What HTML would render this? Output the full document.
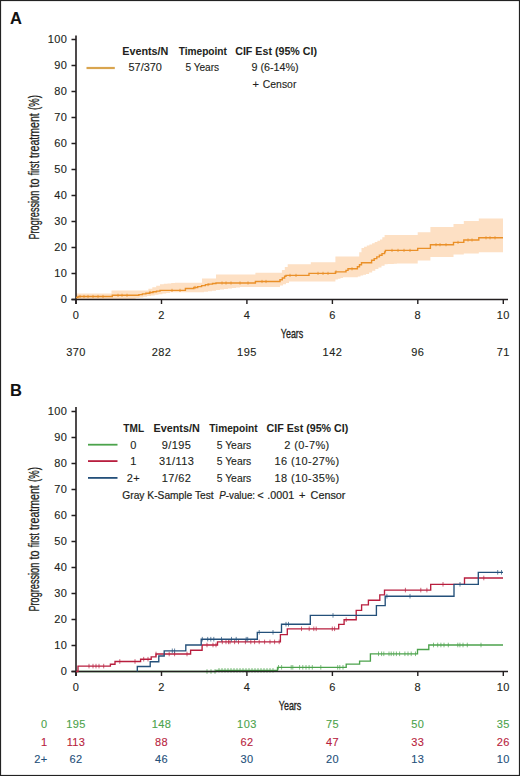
<!DOCTYPE html><html><head><meta charset="utf-8"><style>
html,body{margin:0;padding:0;background:#fff;}
body{width:520px;height:776px;overflow:hidden;position:relative;}
svg{position:absolute;left:0;top:0;}
text{font-family:"Liberation Sans",sans-serif;}
</style></head><body>
<svg width="520" height="776" viewBox="0 0 520 776">
<rect x="0.5" y="0.5" width="519" height="775" fill="#fff" stroke="#222" stroke-width="1.2"/>
<text x="10" y="23.7" font-size="16.5" text-anchor="start" font-weight="bold" fill="#111" stroke="#111" stroke-width="0.05" >A</text>
<path d="M76.0,293.5H111.5V290.4H148.4V288.8H152.3V287.3H156.2V285.8H160.0V284.2H163.8V283.8H167.5V283.4H171.2V283.1H175.0V282.7H202.0V278.5H216.0V274.6H255.4V272.8H281.9V269.9H284.8V267.1H287.7V264.2H310.8V262.3H335.4V256.5H359.2V252.2H361.5V248.0H364.1V246.8H366.8V245.6H369.4V244.4H372.1V243.2H374.7V242.0H377.4V240.8H380.0V239.6H382.3V237.3H384.6V235.0H417.7V232.2H430.4V227.0H453.5V224.0H463.8V221.0H478.8V218.4H503.0V252.3H478.8V253.5H463.8V254.6H453.5V257.0H430.4V260.4H417.7V263.5H400.0V263.6H396.9V263.8H393.8V263.9H390.8V264.1H387.7V264.2H384.6V265.8H381.5V267.5H378.4V269.1H375.3V270.7H372.2V272.4H369.1V274.0H366.0V274.8H363.2V275.6H360.5V276.5H357.8V277.3H343.0V278.1H340.5V278.8H337.9V279.6H335.4V281.5H289.0V282.9H286.0V284.2H283.0V285.5H280.0V286.9H240.0V287.4H236.0V288.0H232.0V288.5H228.0V289.1H224.0V289.6H220.0V290.1H216.0V290.7H212.0V291.2H208.0V291.8H204.0V292.3H170.0V292.9H166.2V293.6H162.4V294.2H158.5V294.8H154.7V295.5H150.9V296.1H147.1V296.7H143.2V297.4H139.4V298.0H135.6V299.0H111.6V299.5H76.0Z" fill="#fde0c4"/>
<path d="M76,35.5V304.0M71.5,299.5H508" stroke="#231f20" stroke-width="1.6" fill="none"/>
<text x="67.2" y="303.4" font-size="11" text-anchor="end" font-weight="normal" fill="#231f20" stroke="#231f20" stroke-width="0.12" letter-spacing="0.4">0</text>
<text x="67.2" y="277.4" font-size="11" text-anchor="end" font-weight="normal" fill="#231f20" stroke="#231f20" stroke-width="0.12" letter-spacing="0.4">10</text>
<text x="67.2" y="251.4" font-size="11" text-anchor="end" font-weight="normal" fill="#231f20" stroke="#231f20" stroke-width="0.12" letter-spacing="0.4">20</text>
<text x="67.2" y="225.4" font-size="11" text-anchor="end" font-weight="normal" fill="#231f20" stroke="#231f20" stroke-width="0.12" letter-spacing="0.4">30</text>
<text x="67.2" y="199.4" font-size="11" text-anchor="end" font-weight="normal" fill="#231f20" stroke="#231f20" stroke-width="0.12" letter-spacing="0.4">40</text>
<text x="67.2" y="173.4" font-size="11" text-anchor="end" font-weight="normal" fill="#231f20" stroke="#231f20" stroke-width="0.12" letter-spacing="0.4">50</text>
<text x="67.2" y="147.4" font-size="11" text-anchor="end" font-weight="normal" fill="#231f20" stroke="#231f20" stroke-width="0.12" letter-spacing="0.4">60</text>
<text x="67.2" y="121.4" font-size="11" text-anchor="end" font-weight="normal" fill="#231f20" stroke="#231f20" stroke-width="0.12" letter-spacing="0.4">70</text>
<text x="67.2" y="95.4" font-size="11" text-anchor="end" font-weight="normal" fill="#231f20" stroke="#231f20" stroke-width="0.12" letter-spacing="0.4">80</text>
<text x="67.2" y="69.4" font-size="11" text-anchor="end" font-weight="normal" fill="#231f20" stroke="#231f20" stroke-width="0.12" letter-spacing="0.4">90</text>
<text x="67.2" y="43.4" font-size="11" text-anchor="end" font-weight="normal" fill="#231f20" stroke="#231f20" stroke-width="0.12" letter-spacing="0.4">100</text>
<text x="76.0" y="318.8" font-size="11" text-anchor="middle" font-weight="normal" fill="#231f20" stroke="#231f20" stroke-width="0.12" letter-spacing="0.4">0</text>
<text x="161.5" y="318.8" font-size="11" text-anchor="middle" font-weight="normal" fill="#231f20" stroke="#231f20" stroke-width="0.12" letter-spacing="0.4">2</text>
<text x="246.9" y="318.8" font-size="11" text-anchor="middle" font-weight="normal" fill="#231f20" stroke="#231f20" stroke-width="0.12" letter-spacing="0.4">4</text>
<text x="332.4" y="318.8" font-size="11" text-anchor="middle" font-weight="normal" fill="#231f20" stroke="#231f20" stroke-width="0.12" letter-spacing="0.4">6</text>
<text x="417.8" y="318.8" font-size="11" text-anchor="middle" font-weight="normal" fill="#231f20" stroke="#231f20" stroke-width="0.12" letter-spacing="0.4">8</text>
<text x="503.3" y="318.8" font-size="11" text-anchor="middle" font-weight="normal" fill="#231f20" stroke="#231f20" stroke-width="0.12" letter-spacing="0.4">10</text>
<path d="M71.5,299.5H76M71.5,273.5H76M71.5,247.5H76M71.5,221.5H76M71.5,195.5H76M71.5,169.5H76M71.5,143.5H76M71.5,117.5H76M71.5,91.5H76M71.5,65.5H76M71.5,39.5H76M76.0,299.5V304.0M161.5,299.5V304.0M246.9,299.5V304.0M332.4,299.5V304.0M417.8,299.5V304.0M503.3,299.5V304.0" stroke="#231f20" stroke-width="1.4" fill="none"/>
<path d="M76.0,297.5H78.0V296.5H112.3V295.3H138.9V294.6H142.4V293.9H145.9V293.2H149.5V292.5H153.0V291.8H156.5V291.1H160.0V290.4H185.4V288.5H193.8V287.5H197.7V286.6H201.6V285.6H205.4V284.6H208.9V284.1H212.5V283.5H216.0V283.0H255.4V281.5H280.0V279.7H282.3V278.0H284.6V276.2H286.0V275.4H309.0V273.4H335.4V271.9H346.0V270.4H348.0V268.8H357.4V266.8H359.5V264.7H361.5V262.7H371.6V260.3H374.2V258.6H376.8V256.9H379.4V255.3H382.0V253.6H384.6V251.9H385.4V250.4H417.7V248.4H430.4V244.7H453.5V242.4H463.8V240.0H478.8V237.8H503.0" stroke="#ea9028" stroke-width="1.4" fill="none"/>
<path d="M80.0,294.9V298.1M84.0,294.9V298.1M88.0,294.9V298.1M93.0,294.9V298.1M98.0,294.9V298.1M103.0,294.9V298.1M118.0,293.7V296.9M122.0,293.7V296.9M127.0,293.7V296.9M150.0,290.9V294.1M172.0,288.8V292.0M180.0,288.8V292.0M195.0,285.9V289.1M208.0,283.0V286.2M222.0,281.4V284.6M226.0,281.4V284.6M231.0,281.4V284.6M240.0,281.4V284.6M248.0,281.4V284.6M262.0,279.9V283.1M266.0,279.9V283.1M290.0,273.8V277.0M296.0,273.8V277.0M318.0,271.8V275.0M323.0,271.8V275.0M328.0,271.8V275.0M336.0,270.3V273.5M352.0,267.2V270.4M392.0,248.8V252.0M398.0,248.8V252.0M404.0,248.8V252.0M410.0,248.8V252.0M436.0,243.1V246.3M440.0,243.1V246.3M446.0,243.1V246.3M458.0,240.8V244.0M468.0,238.4V241.6M472.0,238.4V241.6M486.0,236.2V239.4M490.0,236.2V239.4M495.0,236.2V239.4" stroke="#ea9028" stroke-width="0.8" fill="none"/>
<text transform="translate(38.9,239.6) rotate(-90)" font-size="14" fill="#231f20" stroke="#231f20" stroke-width="0.3" textLength="48.9" lengthAdjust="spacingAndGlyphs">Progression</text>
<text transform="translate(38.9,187.6) rotate(-90)" font-size="14" fill="#231f20" stroke="#231f20" stroke-width="0.3" textLength="9.0" lengthAdjust="spacingAndGlyphs">to</text>
<text transform="translate(38.9,175.2) rotate(-90)" font-size="14" fill="#231f20" stroke="#231f20" stroke-width="0.3" textLength="14.0" lengthAdjust="spacingAndGlyphs">first</text>
<text transform="translate(38.9,157.9) rotate(-90)" font-size="14" fill="#231f20" stroke="#231f20" stroke-width="0.3" textLength="44.6" lengthAdjust="spacingAndGlyphs">treatment</text>
<text transform="translate(38.9,110.0) rotate(-90)" font-size="14" fill="#231f20" stroke="#231f20" stroke-width="0.3" textLength="14.8" lengthAdjust="spacingAndGlyphs">(%)</text>
<text x="280.8" y="337.5" font-size="13.5" fill="#231f20" stroke="#231f20" stroke-width="0.35" textLength="22.5" lengthAdjust="spacingAndGlyphs">Years</text>
<text x="76.0" y="355.8" font-size="11" text-anchor="middle" font-weight="normal" fill="#231f20" stroke="#231f20" stroke-width="0.12" letter-spacing="0.4">370</text>
<text x="161.5" y="355.8" font-size="11" text-anchor="middle" font-weight="normal" fill="#231f20" stroke="#231f20" stroke-width="0.12" letter-spacing="0.4">282</text>
<text x="246.9" y="355.8" font-size="11" text-anchor="middle" font-weight="normal" fill="#231f20" stroke="#231f20" stroke-width="0.12" letter-spacing="0.4">195</text>
<text x="332.4" y="355.8" font-size="11" text-anchor="middle" font-weight="normal" fill="#231f20" stroke="#231f20" stroke-width="0.12" letter-spacing="0.4">142</text>
<text x="417.8" y="355.8" font-size="11" text-anchor="middle" font-weight="normal" fill="#231f20" stroke="#231f20" stroke-width="0.12" letter-spacing="0.4">96</text>
<text x="503.3" y="355.8" font-size="11" text-anchor="middle" font-weight="normal" fill="#231f20" stroke="#231f20" stroke-width="0.12" letter-spacing="0.4">71</text>
<path d="M86.5,68H114.8" stroke="#d9a54f" stroke-width="2.2"/>
<text x="145.3" y="54.9" font-size="11" text-anchor="middle" font-weight="bold" fill="#231f20" stroke="#231f20" stroke-width="0.05" textLength="46.2" lengthAdjust="spacingAndGlyphs">Events/N</text>
<text x="202.8" y="54.9" font-size="11" text-anchor="middle" font-weight="bold" fill="#231f20" stroke="#231f20" stroke-width="0.05" textLength="48.3" lengthAdjust="spacingAndGlyphs">Timepoint</text>
<text x="276.1" y="54.9" font-size="11" text-anchor="middle" font-weight="bold" fill="#231f20" stroke="#231f20" stroke-width="0.05" textLength="81.8" lengthAdjust="spacingAndGlyphs">CIF Est (95% CI)</text>
<text x="145.2" y="70.9" font-size="11" text-anchor="middle" font-weight="normal" fill="#231f20" stroke="#231f20" stroke-width="0.12" textLength="33.4" lengthAdjust="spacingAndGlyphs">57/370</text>
<text x="202.3" y="70.9" font-size="11" text-anchor="middle" font-weight="normal" fill="#231f20" stroke="#231f20" stroke-width="0.12" textLength="33.8" lengthAdjust="spacingAndGlyphs">5 Years</text>
<text x="275.1" y="70.9" font-size="11" text-anchor="middle" font-weight="normal" fill="#231f20" stroke="#231f20" stroke-width="0.12" textLength="47.2" lengthAdjust="spacingAndGlyphs">9 (6-14%)</text>
<text x="252.6" y="87.6" font-size="11" text-anchor="start" font-weight="normal" fill="#231f20" stroke="#231f20" stroke-width="0.12" letter-spacing="0.4">+</text>
<text x="262.8" y="87.6" font-size="11" text-anchor="start" font-weight="normal" fill="#231f20" stroke="#231f20" stroke-width="0.12" textLength="33.6" lengthAdjust="spacingAndGlyphs">Censor</text>
<text x="10" y="396" font-size="16.5" text-anchor="start" font-weight="bold" fill="#111" stroke="#111" stroke-width="0.05" >B</text>
<path d="M76.0,671.5H216.0V670.3H277.5V667.3H346.2V664.1H359.6V661.1H370.4V653.8H417.5V649.5H428.8V645.0H503.0" stroke="#4ca34c" stroke-width="1.35" fill="none"/>
<path d="M207.0,669.2V673.8M211.0,669.2V673.8M215.0,669.2V673.8M219.0,668.0V672.6M222.0,668.0V672.6M225.0,668.0V672.6M228.0,668.0V672.6M231.0,668.0V672.6M234.0,668.0V672.6M237.0,668.0V672.6M240.0,668.0V672.6M243.0,668.0V672.6M246.0,668.0V672.6M249.0,668.0V672.6M252.0,668.0V672.6M255.0,668.0V672.6M258.0,668.0V672.6M261.0,668.0V672.6M264.0,668.0V672.6M267.0,668.0V672.6M270.0,668.0V672.6M273.0,668.0V672.6M278.5,665.0V669.6M281.6,665.0V669.6M291.2,665.0V669.6M292.8,665.0V669.6M299.6,665.0V669.6M302.8,665.0V669.6M306.0,665.0V669.6M309.1,665.0V669.6M312.3,665.0V669.6M320.8,665.0V669.6M337.7,665.0V669.6M339.8,665.0V669.6M343.0,665.0V669.6M378.5,651.5V656.1M381.6,651.5V656.1M383.8,651.5V656.1M389.0,651.5V656.1M391.2,651.5V656.1M393.7,651.5V656.1M396.4,651.5V656.1M399.6,651.5V656.1M404.9,651.5V656.1M408.0,651.5V656.1M411.2,651.5V656.1M415.5,651.5V656.1M433.5,642.7V647.3M437.7,642.7V647.3M440.9,642.7V647.3M444.0,642.7V647.3M448.3,642.7V647.3M457.8,642.7V647.3M459.9,642.7V647.3M463.0,642.7V647.3M467.3,642.7V647.3M481.0,642.7V647.3" stroke="#4ca34c" stroke-width="0.7" fill="none"/>
<path d="M76,407V676.0M71.5,671.5H508" stroke="#231f20" stroke-width="1.6" fill="none"/>
<text x="67.2" y="675.4" font-size="11" text-anchor="end" font-weight="normal" fill="#231f20" stroke="#231f20" stroke-width="0.12" letter-spacing="0.4">0</text>
<text x="67.2" y="649.4" font-size="11" text-anchor="end" font-weight="normal" fill="#231f20" stroke="#231f20" stroke-width="0.12" letter-spacing="0.4">10</text>
<text x="67.2" y="623.4" font-size="11" text-anchor="end" font-weight="normal" fill="#231f20" stroke="#231f20" stroke-width="0.12" letter-spacing="0.4">20</text>
<text x="67.2" y="597.4" font-size="11" text-anchor="end" font-weight="normal" fill="#231f20" stroke="#231f20" stroke-width="0.12" letter-spacing="0.4">30</text>
<text x="67.2" y="571.4" font-size="11" text-anchor="end" font-weight="normal" fill="#231f20" stroke="#231f20" stroke-width="0.12" letter-spacing="0.4">40</text>
<text x="67.2" y="545.4" font-size="11" text-anchor="end" font-weight="normal" fill="#231f20" stroke="#231f20" stroke-width="0.12" letter-spacing="0.4">50</text>
<text x="67.2" y="519.4" font-size="11" text-anchor="end" font-weight="normal" fill="#231f20" stroke="#231f20" stroke-width="0.12" letter-spacing="0.4">60</text>
<text x="67.2" y="493.4" font-size="11" text-anchor="end" font-weight="normal" fill="#231f20" stroke="#231f20" stroke-width="0.12" letter-spacing="0.4">70</text>
<text x="67.2" y="467.4" font-size="11" text-anchor="end" font-weight="normal" fill="#231f20" stroke="#231f20" stroke-width="0.12" letter-spacing="0.4">80</text>
<text x="67.2" y="441.4" font-size="11" text-anchor="end" font-weight="normal" fill="#231f20" stroke="#231f20" stroke-width="0.12" letter-spacing="0.4">90</text>
<text x="67.2" y="415.4" font-size="11" text-anchor="end" font-weight="normal" fill="#231f20" stroke="#231f20" stroke-width="0.12" letter-spacing="0.4">100</text>
<text x="76.0" y="690.8" font-size="11" text-anchor="middle" font-weight="normal" fill="#231f20" stroke="#231f20" stroke-width="0.12" letter-spacing="0.4">0</text>
<text x="161.5" y="690.8" font-size="11" text-anchor="middle" font-weight="normal" fill="#231f20" stroke="#231f20" stroke-width="0.12" letter-spacing="0.4">2</text>
<text x="246.9" y="690.8" font-size="11" text-anchor="middle" font-weight="normal" fill="#231f20" stroke="#231f20" stroke-width="0.12" letter-spacing="0.4">4</text>
<text x="332.4" y="690.8" font-size="11" text-anchor="middle" font-weight="normal" fill="#231f20" stroke="#231f20" stroke-width="0.12" letter-spacing="0.4">6</text>
<text x="417.8" y="690.8" font-size="11" text-anchor="middle" font-weight="normal" fill="#231f20" stroke="#231f20" stroke-width="0.12" letter-spacing="0.4">8</text>
<text x="503.3" y="690.8" font-size="11" text-anchor="middle" font-weight="normal" fill="#231f20" stroke="#231f20" stroke-width="0.12" letter-spacing="0.4">10</text>
<path d="M71.5,671.5H76M71.5,645.5H76M71.5,619.5H76M71.5,593.5H76M71.5,567.5H76M71.5,541.5H76M71.5,515.5H76M71.5,489.5H76M71.5,463.5H76M71.5,437.5H76M71.5,411.5H76M76.0,671.5V676.0M161.5,671.5V676.0M246.9,671.5V676.0M332.4,671.5V676.0M417.8,671.5V676.0M503.3,671.5V676.0" stroke="#231f20" stroke-width="1.4" fill="none"/>
<path d="M76.0,671.5H78.0V666.1H110.4V664.2H115.0V661.5H140.6V659.2H151.2V656.9H156.0V654.0H190.6V650.2H202.1V645.0H217.5V641.9H280.4V634.6H287.3V628.8H338.7V624.4H344.1V619.7H356.2V610.3H361.6V604.9H368.4V600.2H379.8V594.8H384.5V590.1H430.7V584.3H464.5V578.0H503.0" stroke="#b81e3e" stroke-width="1.35" fill="none"/>
<path d="M89.0,663.8V668.4M93.0,663.8V668.4M96.0,663.8V668.4M99.0,663.8V668.4M103.7,663.8V668.4M119.8,659.2V663.8M135.0,659.2V663.8M143.7,656.9V661.5M148.0,656.9V661.5M156.0,651.7V656.3M169.2,651.7V656.3M174.6,651.7V656.3M187.0,651.7V656.3M207.0,642.7V647.3M213.0,642.7V647.3M216.0,642.7V647.3M222.3,639.6V644.2M226.0,639.6V644.2M228.5,639.6V644.2M230.0,639.6V644.2M234.6,639.6V644.2M238.5,639.6V644.2M245.4,639.6V644.2M250.8,639.6V644.2M254.6,639.6V644.2M259.2,639.6V644.2M264.6,639.6V644.2M270.0,639.6V644.2M274.6,639.6V644.2M279.2,639.6V644.2M301.5,626.5V631.1M309.2,626.5V631.1M313.8,626.5V631.1M316.2,626.5V631.1M332.3,626.5V631.1M334.6,626.5V631.1M346.2,617.4V622.0M405.4,587.8V592.4M420.8,587.8V592.4M426.9,587.8V592.4M443.0,582.0V586.6M483.8,575.7V580.3" stroke="#b81e3e" stroke-width="0.7" fill="none"/>
<path d="M137.3,671.5H137.3V666.5H150.2V661.7H158.8V656.0H164.2V650.8H185.8V645.0H201.2V639.2H257.3V632.3H281.5V624.2H310.3V615.4H376.4V605.6H385.2V596.2H454.0V584.3H478.3V572.3H503.0" stroke="#24507a" stroke-width="1.35" fill="none"/>
<path d="M172.3,648.5V653.1M174.6,648.5V653.1M202.3,636.9V641.5M207.7,636.9V641.5M210.8,636.9V641.5M213.8,636.9V641.5M221.5,636.9V641.5M231.5,636.9V641.5M236.2,636.9V641.5M246.2,636.9V641.5M247.7,636.9V641.5M259.2,630.0V634.6M273.0,630.0V634.6M286.0,621.9V626.5M288.5,621.9V626.5M333.0,613.1V617.7M386.9,593.9V598.5M410.0,593.9V598.5M460.0,582.0V586.6M497.7,570.0V574.6M501.5,570.0V574.6" stroke="#24507a" stroke-width="0.7" fill="none"/>
<text transform="translate(38.9,611.6) rotate(-90)" font-size="14" fill="#231f20" stroke="#231f20" stroke-width="0.3" textLength="48.9" lengthAdjust="spacingAndGlyphs">Progression</text>
<text transform="translate(38.9,559.6) rotate(-90)" font-size="14" fill="#231f20" stroke="#231f20" stroke-width="0.3" textLength="9.0" lengthAdjust="spacingAndGlyphs">to</text>
<text transform="translate(38.9,547.2) rotate(-90)" font-size="14" fill="#231f20" stroke="#231f20" stroke-width="0.3" textLength="14.0" lengthAdjust="spacingAndGlyphs">first</text>
<text transform="translate(38.9,529.9) rotate(-90)" font-size="14" fill="#231f20" stroke="#231f20" stroke-width="0.3" textLength="44.6" lengthAdjust="spacingAndGlyphs">treatment</text>
<text transform="translate(38.9,482.0) rotate(-90)" font-size="14" fill="#231f20" stroke="#231f20" stroke-width="0.3" textLength="14.8" lengthAdjust="spacingAndGlyphs">(%)</text>
<text x="278.8" y="710" font-size="13.5" fill="#231f20" stroke="#231f20" stroke-width="0.35" textLength="22.5" lengthAdjust="spacingAndGlyphs">Years</text>
<path d="M88,444.7H117.5" stroke="#4ca34c" stroke-width="1.8"/>
<path d="M88,461.1H117.5" stroke="#b81e3e" stroke-width="1.8"/>
<path d="M88,477.9H117.5" stroke="#24507a" stroke-width="1.8"/>
<text x="133.7" y="432.3" font-size="11" text-anchor="middle" font-weight="bold" fill="#231f20" stroke="#231f20" stroke-width="0.05" textLength="20.7" lengthAdjust="spacingAndGlyphs">TML</text>
<text x="176.6" y="432.3" font-size="11" text-anchor="middle" font-weight="bold" fill="#231f20" stroke="#231f20" stroke-width="0.05" textLength="46.2" lengthAdjust="spacingAndGlyphs">Events/N</text>
<text x="233.5" y="432.3" font-size="11" text-anchor="middle" font-weight="bold" fill="#231f20" stroke="#231f20" stroke-width="0.05" textLength="48.3" lengthAdjust="spacingAndGlyphs">Timepoint</text>
<text x="307.4" y="432.3" font-size="11" text-anchor="middle" font-weight="bold" fill="#231f20" stroke="#231f20" stroke-width="0.05" textLength="81.8" lengthAdjust="spacingAndGlyphs">CIF Est (95% CI)</text>
<text x="133.5" y="448.7" font-size="11" text-anchor="middle" font-weight="normal" fill="#231f20" stroke="#231f20" stroke-width="0.12" letter-spacing="0.4">0</text>
<text x="176.6" y="448.7" font-size="11" text-anchor="middle" font-weight="normal" fill="#231f20" stroke="#231f20" stroke-width="0.12" letter-spacing="0.4">9/195</text>
<text x="234" y="448.7" font-size="11" text-anchor="middle" font-weight="normal" fill="#231f20" stroke="#231f20" stroke-width="0.12" textLength="34.6" lengthAdjust="spacingAndGlyphs">5 Years</text>
<text x="307" y="448.7" font-size="11" text-anchor="middle" font-weight="normal" fill="#231f20" stroke="#231f20" stroke-width="0.12" letter-spacing="0.4">2 (0-7%)</text>
<text x="133.5" y="465.4" font-size="11" text-anchor="middle" font-weight="normal" fill="#231f20" stroke="#231f20" stroke-width="0.12" letter-spacing="0.4">1</text>
<text x="176.6" y="465.4" font-size="11" text-anchor="middle" font-weight="normal" fill="#231f20" stroke="#231f20" stroke-width="0.12" letter-spacing="0.4">31/113</text>
<text x="234" y="465.4" font-size="11" text-anchor="middle" font-weight="normal" fill="#231f20" stroke="#231f20" stroke-width="0.12" textLength="34.6" lengthAdjust="spacingAndGlyphs">5 Years</text>
<text x="307" y="465.4" font-size="11" text-anchor="middle" font-weight="normal" fill="#231f20" stroke="#231f20" stroke-width="0.12" letter-spacing="0.4">16 (10-27%)</text>
<text x="133.5" y="482.1" font-size="11" text-anchor="middle" font-weight="normal" fill="#231f20" stroke="#231f20" stroke-width="0.12" letter-spacing="0.4">2+</text>
<text x="176.6" y="482.1" font-size="11" text-anchor="middle" font-weight="normal" fill="#231f20" stroke="#231f20" stroke-width="0.12" letter-spacing="0.4">17/62</text>
<text x="234" y="482.1" font-size="11" text-anchor="middle" font-weight="normal" fill="#231f20" stroke="#231f20" stroke-width="0.12" textLength="34.6" lengthAdjust="spacingAndGlyphs">5 Years</text>
<text x="307" y="482.1" font-size="11" text-anchor="middle" font-weight="normal" fill="#231f20" stroke="#231f20" stroke-width="0.12" letter-spacing="0.4">18 (10-35%)</text>
<text x="122.3" y="498.7" fill="#231f20" stroke="#231f20" stroke-width="0.2" font-size="11" textLength="91.4" lengthAdjust="spacingAndGlyphs">Gray K-Sample Test</text>
<text x="219.3" y="498.7" fill="#231f20" stroke="#231f20" stroke-width="0.2" font-size="11" textLength="35.8" lengthAdjust="spacingAndGlyphs"><tspan font-style="italic">P</tspan>-value:</text>
<text x="257.3" y="498.5" fill="#231f20" stroke="#231f20" stroke-width="0.2" font-size="11">&lt;</text>
<text x="267.3" y="498.7" fill="#231f20" stroke="#231f20" stroke-width="0.2" font-size="11" textLength="26.8" lengthAdjust="spacingAndGlyphs">.0001</text>
<text x="299.1" y="498.7" fill="#231f20" stroke="#231f20" stroke-width="0.2" font-size="11">+</text>
<text x="310.6" y="498.7" fill="#231f20" stroke="#231f20" stroke-width="0.2" font-size="11" textLength="34.8" lengthAdjust="spacingAndGlyphs">Censor</text>
<text x="47.6" y="728.3" font-size="11" text-anchor="end" font-weight="normal" fill="#4ca34c" stroke="#4ca34c" stroke-width="0.12" letter-spacing="0.4">0</text>
<text x="76.0" y="728.3" font-size="11" text-anchor="middle" font-weight="normal" fill="#4ca34c" stroke="#4ca34c" stroke-width="0.12" letter-spacing="0.4">195</text>
<text x="161.5" y="728.3" font-size="11" text-anchor="middle" font-weight="normal" fill="#4ca34c" stroke="#4ca34c" stroke-width="0.12" letter-spacing="0.4">148</text>
<text x="246.9" y="728.3" font-size="11" text-anchor="middle" font-weight="normal" fill="#4ca34c" stroke="#4ca34c" stroke-width="0.12" letter-spacing="0.4">103</text>
<text x="332.4" y="728.3" font-size="11" text-anchor="middle" font-weight="normal" fill="#4ca34c" stroke="#4ca34c" stroke-width="0.12" letter-spacing="0.4">75</text>
<text x="417.8" y="728.3" font-size="11" text-anchor="middle" font-weight="normal" fill="#4ca34c" stroke="#4ca34c" stroke-width="0.12" letter-spacing="0.4">50</text>
<text x="503.3" y="728.3" font-size="11" text-anchor="middle" font-weight="normal" fill="#4ca34c" stroke="#4ca34c" stroke-width="0.12" letter-spacing="0.4">35</text>
<text x="47.6" y="745.8" font-size="11" text-anchor="end" font-weight="normal" fill="#b81e3e" stroke="#b81e3e" stroke-width="0.12" letter-spacing="0.4">1</text>
<text x="76.0" y="745.8" font-size="11" text-anchor="middle" font-weight="normal" fill="#b81e3e" stroke="#b81e3e" stroke-width="0.12" letter-spacing="0.4">113</text>
<text x="161.5" y="745.8" font-size="11" text-anchor="middle" font-weight="normal" fill="#b81e3e" stroke="#b81e3e" stroke-width="0.12" letter-spacing="0.4">88</text>
<text x="246.9" y="745.8" font-size="11" text-anchor="middle" font-weight="normal" fill="#b81e3e" stroke="#b81e3e" stroke-width="0.12" letter-spacing="0.4">62</text>
<text x="332.4" y="745.8" font-size="11" text-anchor="middle" font-weight="normal" fill="#b81e3e" stroke="#b81e3e" stroke-width="0.12" letter-spacing="0.4">47</text>
<text x="417.8" y="745.8" font-size="11" text-anchor="middle" font-weight="normal" fill="#b81e3e" stroke="#b81e3e" stroke-width="0.12" letter-spacing="0.4">33</text>
<text x="503.3" y="745.8" font-size="11" text-anchor="middle" font-weight="normal" fill="#b81e3e" stroke="#b81e3e" stroke-width="0.12" letter-spacing="0.4">26</text>
<text x="47.6" y="762.9" font-size="11" text-anchor="end" font-weight="normal" fill="#24507a" stroke="#24507a" stroke-width="0.12" letter-spacing="0.4">2+</text>
<text x="76.0" y="762.9" font-size="11" text-anchor="middle" font-weight="normal" fill="#24507a" stroke="#24507a" stroke-width="0.12" letter-spacing="0.4">62</text>
<text x="161.5" y="762.9" font-size="11" text-anchor="middle" font-weight="normal" fill="#24507a" stroke="#24507a" stroke-width="0.12" letter-spacing="0.4">46</text>
<text x="246.9" y="762.9" font-size="11" text-anchor="middle" font-weight="normal" fill="#24507a" stroke="#24507a" stroke-width="0.12" letter-spacing="0.4">30</text>
<text x="332.4" y="762.9" font-size="11" text-anchor="middle" font-weight="normal" fill="#24507a" stroke="#24507a" stroke-width="0.12" letter-spacing="0.4">20</text>
<text x="417.8" y="762.9" font-size="11" text-anchor="middle" font-weight="normal" fill="#24507a" stroke="#24507a" stroke-width="0.12" letter-spacing="0.4">13</text>
<text x="503.3" y="762.9" font-size="11" text-anchor="middle" font-weight="normal" fill="#24507a" stroke="#24507a" stroke-width="0.12" letter-spacing="0.4">10</text>
</svg></body></html>
